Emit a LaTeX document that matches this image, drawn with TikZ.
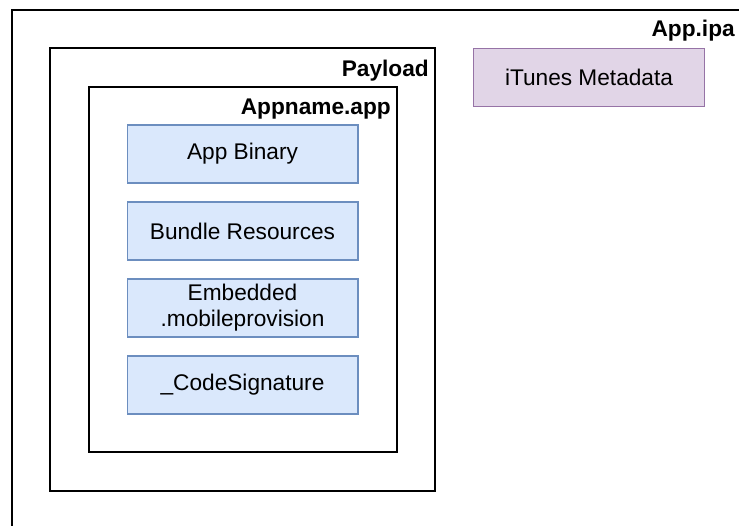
\documentclass[tikz,border=0pt]{standalone}
\usepackage{fontspec}
\setmainfont{Liberation Sans}
\usepackage{xcolor}
\usetikzlibrary{positioning}
\definecolor{partfill}{HTML}{DAE8FC}
\definecolor{partline}{HTML}{6C8EBF}
\definecolor{metafill}{HTML}{E1D5E7}
\definecolor{metaline}{HTML}{9673A6}

\begin{document}
\begin{tikzpicture}[x=0.75pt, y=-0.75pt,
  box/.style={line width=1.2pt, draw=black},
  lbl/.style={font=\fontsize{17}{20}\selectfont\bfseries, anchor=base east, inner sep=0pt},
  part/.style={draw=partline, fill=partfill, line width=1pt, outer sep=0pt,
    minimum width=173pt, minimum height=43.5pt,
    align=center, font=\fontsize{17}{19.5}\selectfont},
  meta/.style={part, draw=metaline, fill=metafill}]
\useasboundingbox (0,0) rectangle (739,525);
\clip (0,0) rectangle (739,525);

\draw[box] (12,10) rectangle (760,545);
\node[lbl] (ipa) at (735,36) {App.ipa};
\node[meta] (itunes) at (589,77.5) {iTunes Metadata};

\draw[box] (50,48) rectangle (435,491);
\node[lbl] (payload) at (429,76) {Payload};

\draw[box] (89,87) rectangle (397,452);
\node[lbl] (appname) at (391,114) {Appname.app};

\node[part] (binary) at (242.5,154) {App Binary};
\node[part, below=14.25pt of binary] (resources) {Bundle Resources};
\node[part, below=14.25pt of resources] (provision) {Embedded\\.mobileprovision};
\node[part, below=14.25pt of provision] (signature) {\_CodeSignature};

\end{tikzpicture}
\end{document}
